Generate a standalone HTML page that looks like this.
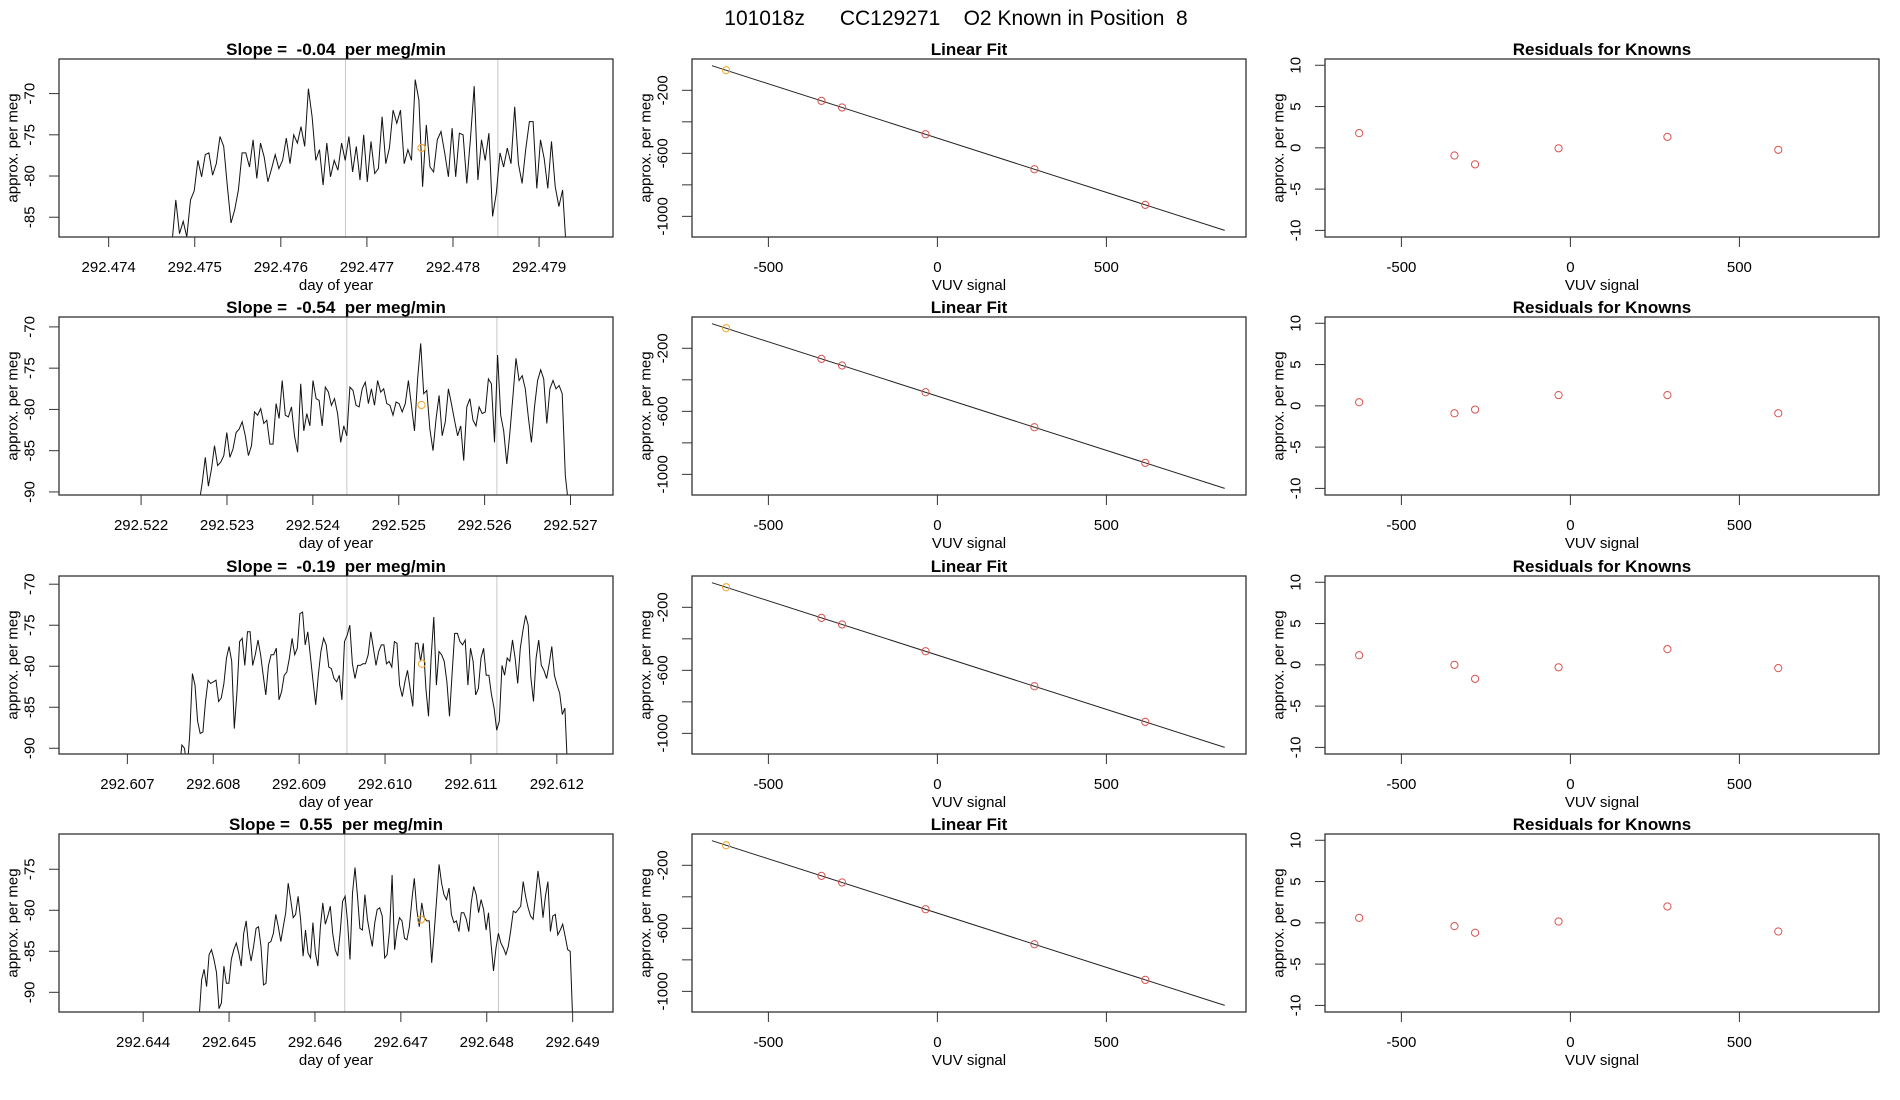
<!DOCTYPE html>
<html><head><meta charset="utf-8"><title>101018z CC129271</title>
<style>
html,body{margin:0;padding:0;background:#fff;}
svg{display:block;font-family:"Liberation Sans",Arial,sans-serif;}
svg text{white-space:pre;}
</style></head>
<body>
<svg id="chart" xmlns="http://www.w3.org/2000/svg" xml:space="preserve" width="1900" height="1100" viewBox="0 0 1900 1100">
<rect x="0" y="0" width="1900" height="1100" fill="#fff"/>
<text x="956" y="25" font-size="21" text-anchor="middle">101018z      CC129271    O2 Known in Position  8</text>
</svg>
<script>
// ---------- data ----------
const slopeLabels = ["-0.04", "-0.54", "-0.19", "0.55"];
const tsTickLabels = [
  ["292.474","292.475","292.476","292.477","292.478","292.479"],
  ["292.522","292.523","292.524","292.525","292.526","292.527"],
  ["292.607","292.608","292.609","292.610","292.611","292.612"],
  ["292.644","292.645","292.646","292.647","292.648","292.649"]
];
const tsTickValues = [
  [292.474,292.475,292.476,292.477,292.478,292.479],
  [292.522,292.523,292.524,292.525,292.526,292.527],
  [292.607,292.608,292.609,292.610,292.611,292.612],
  [292.644,292.645,292.646,292.647,292.648,292.649]
];
const tsXRange = [[292.473423,292.479859],[292.521044,292.527495],[292.606204,292.612654],[292.64302,292.64947]];
const tsYRange = [[-87.4,-65.8],[-90.37,-68.8],[-90.7,-69.0],[-92.4,-70.7]];
const tsYTicks = [[-85,-80,-75,-70],[-90,-85,-80,-75,-70],[-90,-85,-80,-75,-70],[-90,-85,-80,-75]];
const tsStart = [292.474737, 292.522676, 292.607604, 292.644652];
const tsEnd   = [292.479316, 292.526975, 292.612125, 292.649];
const series1 = [-88,-82.9,-87.0,-85.5,-87.4,-82.9,-81.8,-78.1,-80.1,-77.4,-77.2,-79.9,-78.5,-75.2,-76.4,-81.3,-85.7,-84.1,-81.7,-77.2,-77.2,-78.9,-75.6,-80.3,-76.0,-77.7,-80.7,-79.1,-77.4,-79.1,-78.1,-75.4,-78.5,-75.0,-76.0,-74.0,-76.4,-69.4,-72.8,-78.1,-76.8,-81.1,-76.0,-80.1,-78.1,-79.3,-76.0,-78.1,-75.2,-79.5,-76.4,-80.5,-75.0,-80.7,-75.8,-79.7,-79.1,-72.8,-78.5,-76.6,-72.0,-73.6,-72.0,-78.5,-76.8,-78.1,-68.3,-70.8,-81.3,-73.8,-78.9,-79.5,-75.6,-74.6,-77.2,-80.1,-74.2,-80.1,-74.8,-75.0,-80.9,-75.4,-69.1,-80.5,-75.6,-78.1,-74.8,-84.9,-82.1,-77.2,-78.9,-76.6,-78.5,-71.6,-78.5,-80.9,-76.8,-73.4,-73.4,-81.5,-75.6,-77.9,-81.5,-75.8,-81.3,-83.7,-81.7,-89];
const series2 = [-91.3,-88.9,-85.8,-89.3,-87.2,-84.4,-86.8,-86.4,-85.6,-82.8,-85.8,-84.8,-82.8,-82.4,-81.5,-83.2,-85.6,-84.4,-80.3,-80.7,-79.9,-81.7,-81.3,-84.2,-84.2,-79.3,-81.1,-76.5,-80.7,-80.9,-79.7,-83.2,-85.2,-76.9,-82.6,-80.5,-82.0,-76.5,-78.7,-78.9,-82.0,-77.3,-77.9,-79.5,-78.7,-80.5,-84.0,-82.0,-83.2,-77.3,-77.7,-79.5,-79.7,-77.5,-76.7,-79.3,-77.5,-79.5,-76.5,-77.9,-77.5,-79.3,-79.5,-80.7,-79.1,-79.3,-80.3,-79.3,-76.5,-79.5,-82.6,-76.3,-72.0,-78.1,-77.7,-82.4,-85.0,-81.1,-78.3,-83.2,-81.5,-77.5,-79.3,-81.3,-83.2,-82.0,-86.2,-79.7,-78.7,-81.3,-82.0,-79.7,-80.5,-80.3,-76.3,-76.9,-84.0,-73.4,-80.7,-82.6,-86.6,-82.8,-78.3,-73.8,-76.5,-75.9,-77.5,-80.9,-84.0,-79.7,-76.5,-75.2,-76.3,-81.7,-77.5,-76.5,-77.5,-77.1,-78.1,-88.0,-91.3];
const series3 = [-92.7,-89.6,-90.0,-92.7,-88.4,-80.9,-82.3,-86.7,-88.2,-88.0,-84.3,-81.7,-82.1,-81.9,-81.7,-84.3,-83.9,-82.1,-79.0,-77.6,-79.4,-87.6,-83.1,-77.0,-76.6,-79.9,-75.8,-75.8,-79.9,-78.6,-76.8,-78.6,-81.1,-83.5,-79.9,-78.6,-78.6,-77.8,-84.1,-83.1,-81.1,-80.7,-79.0,-76.6,-78.6,-77.8,-73.6,-73.4,-77.4,-75.8,-78.8,-81.9,-84.7,-81.1,-78.2,-76.6,-77.4,-80.1,-80.3,-81.5,-81.9,-81.1,-84.1,-77.0,-76.2,-75.0,-79.7,-81.5,-79.9,-79.9,-79.7,-79.7,-78.6,-75.8,-77.8,-79.9,-78.2,-77.4,-77.4,-79.7,-79.4,-80.1,-77.0,-77.2,-82.3,-83.7,-81.9,-80.5,-82.7,-84.9,-77.2,-77.2,-79.4,-77.2,-82.7,-86.1,-79.0,-74.0,-82.3,-78.2,-78.6,-79.4,-81.9,-86.1,-80.9,-76.0,-76.0,-77.0,-77.4,-76.8,-82.3,-77.8,-79.4,-83.5,-82.7,-79.0,-77.8,-81.1,-81.1,-83.5,-85.1,-87.8,-86.7,-79.9,-81.1,-79.0,-79.4,-76.8,-79.0,-82.1,-77.8,-75.6,-73.8,-75.0,-81.3,-84.3,-79.0,-76.8,-79.9,-80.5,-81.5,-79.7,-77.6,-81.1,-82.3,-83.3,-85.9,-85.1,-92.7];
const series4 = [-93,-88.5,-87.2,-89.3,-85.4,-84.8,-86.0,-87.6,-92,-91.3,-86.8,-88.9,-88.9,-86.0,-84.8,-84.0,-85.2,-86.8,-82.8,-81.3,-84.4,-86.2,-84.4,-82.2,-82.0,-84.4,-89.1,-88.9,-84.0,-83.8,-82.8,-80.5,-82.0,-83.8,-82.0,-80.3,-76.7,-78.7,-80.9,-80.5,-78.3,-81.1,-85.6,-82.4,-85.2,-85.8,-81.5,-85.2,-86.8,-82.0,-79.1,-81.7,-80.7,-79.5,-82.8,-84.8,-85.6,-82.8,-78.9,-78.3,-81.5,-86.0,-77.9,-74.8,-78.3,-82.2,-82.4,-78.1,-81.1,-82.8,-84.4,-81.5,-79.9,-79.7,-80.7,-85.8,-85.4,-82.4,-75.7,-84.8,-82.4,-80.9,-81.3,-83.4,-83.6,-82.0,-78.7,-76.1,-79.9,-82.0,-79.1,-80.9,-81.3,-81.3,-86.4,-82.8,-78.7,-74.4,-76.7,-78.1,-78.7,-77.3,-80.5,-81.5,-81.3,-82.6,-80.3,-80.3,-81.1,-82.6,-79.1,-77.1,-78.1,-80.3,-78.7,-79.9,-82.4,-80.3,-84.0,-87.4,-84.6,-82.8,-84.0,-84.6,-85.4,-84.4,-82.4,-80.1,-80.3,-79.9,-79.5,-76.5,-78.3,-79.7,-80.7,-81.1,-78.3,-75.2,-77.5,-80.9,-78.3,-76.5,-82.6,-80.7,-80.5,-83.0,-82.4,-81.7,-83.2,-84.8,-85.0,-93];
const allSeries = [series1, series2, series3, series4];
const grayLines = [[292.476751,292.478521],[292.524396,292.526143],[292.609556,292.611302],[292.646347,292.648137]];
const markerTime = [292.477634, 292.525265, 292.610430, 292.647234];
const markerValue = [-76.59, -79.46, -79.7, -81.13];

const vuvSignal = [-625, -343, -282, -35, 287, 615];
const fitValues = [-72.8, -267, -309, -479, -701, -927];
const fitLineX = [-667, 850];
const fitLineY = [-43.8, -1089];
const fitXTicks = [-500, 0, 500];
const fitYTicks = [-200, -400, -600, -800, -1000];
const fitYTickLabels = ["-200", "", "-600", "", "-1000"];
const residuals = [
  [1.78, -0.93, -2.0, -0.06, 1.33, -0.24],
  [0.43, -0.9, -0.45, 1.3, 1.3, -0.9],
  [1.16, 0.0, -1.7, -0.3, 1.9, -0.4],
  [0.6, -0.4, -1.2, 0.16, 1.98, -1.05]
];
const residYTicks = [-10, -5, 0, 5, 10];

// ---------- layout ----------
const svg = document.getElementById('chart');
const NS = 'http://www.w3.org/2000/svg';
const cols = [[59, 613], [692, 1246], [1325, 1879]];
const rowTops = [59, 317, 576, 834];
const H = 178;
const FONT = 15;

function mk(tag, attrs, parent) {
  const e = document.createElementNS(NS, tag);
  for (const k in attrs) e.setAttribute(k, attrs[k]);
  (parent || svg).appendChild(e);
  return e;
}
function lin(d0, d1, r0, r1) { return v => r0 + (v - d0) * (r1 - r0) / (d1 - d0); }

function frame(g, x0, x1, y0, y1) {
  const b = mk('rect', {x: x0, y: y0, width: x1 - x0, height: y1 - y0, fill: 'none', stroke: '#333', 'stroke-width': 1.3}, g);
  
  
}
function xAxis(g, xs, vals, labels, y1) {
  vals.forEach((v, i) => {
    const x = xs(v);
    const t = mk('line', {x1: x, x2: x, y1: y1, y2: y1 + 10, stroke: '#333', 'stroke-width': 1}, g);
    
    
    const l = mk('text', {x: x, y: y1 + 35, 'font-size': FONT, 'text-anchor': 'middle', fill: '#000'}, g);
    
    
    l.textContent = labels[i];
  });
}
function yAxis(g, ys, vals, labels, x0) {
  vals.forEach((v, i) => {
    const y = ys(v);
    const t = mk('line', {x1: x0 - 10, x2: x0, y1: y, y2: y, stroke: '#333', 'stroke-width': 1}, g);
    
    
    if (labels[i] !== '') {
      const cx = x0 - 29;
      const l = mk('text', {x: cx, y: y, 'font-size': FONT, 'text-anchor': 'middle', 'dominant-baseline': 'central', transform: `rotate(-90 ${cx} ${y})`}, g);
      
      
      l.textContent = labels[i];
    }
  });
}
function titles(g, x0, x1, y0, y1, title, xlab, ylab) {
  const t = mk('text', {x: (x0 + x1) / 2, y: y0 - 4, 'font-size': 17, 'font-weight': 'bold', 'text-anchor': 'middle'}, g);
  
  
  t.textContent = title;
  const xl = mk('text', {x: (x0 + x1) / 2, y: y1 + 53, 'font-size': FONT, 'text-anchor': 'middle'}, g);
  
  
  xl.textContent = xlab;
  const cx = x0 - 46, cy = (y0 + y1) / 2;
  const yl = mk('text', {x: cx, y: cy, 'font-size': FONT, 'text-anchor': 'middle', 'dominant-baseline': 'central', transform: `rotate(-90 ${cx} ${cy})`}, g);
  
  
  yl.textContent = ylab;
}

rowTops.forEach((top, r) => {
  const bot = top + H;
  // ---- time series ----
  {
    const [x0, x1] = cols[0];
    const g = mk('g', {});
    
    
    const xs = lin(tsXRange[r][0], tsXRange[r][1], x0, x1);
    const ys = lin(tsYRange[r][0], tsYRange[r][1], bot, top);
    const cid = 'clip' + r;
    const cp = mk('clipPath', {id: cid}, g);
    mk('rect', {x: x0, y: top, width: x1 - x0, height: H}, cp);
    grayLines[r].forEach(t => {
      const l = mk('line', {x1: xs(t), x2: xs(t), y1: top, y2: bot, stroke: '#c8c8c8', 'stroke-width': 1}, g);
      
      
    });
    const s = allSeries[r];
    const n = s.length;
    const pts = s.map((v, i) => {
      const t = tsStart[r] + (tsEnd[r] - tsStart[r]) * i / (n - 1);
      return xs(t).toFixed(1) + ',' + ys(v).toFixed(1);
    }).join(' ');
    const pl = mk('polyline', {points: pts, fill: 'none', stroke: '#111', 'stroke-width': 1, 'clip-path': `url(#${cid})`}, g);
    
    
    const m = mk('circle', {cx: xs(markerTime[r]), cy: ys(markerValue[r]), r: 3.6, fill: 'none', stroke: '#f5a623', 'stroke-width': 1}, g);
    
    
    frame(g, x0, x1, top, bot);
    xAxis(g, xs, tsTickValues[r], tsTickLabels[r], bot);
    yAxis(g, ys, tsYTicks[r], tsYTicks[r].map(String), x0);
    titles(g, x0, x1, top, bot, 'Slope =  ' + slopeLabels[r] + '  per meg/min', 'day of year', 'approx. per meg');
  }
  // ---- linear fit ----
  {
    const [x0, x1] = cols[1];
    const g = mk('g', {});
    
    
    const xs = lin(-726, 913, x0, x1);
    const ys = lin(-1131, -1.3, bot, top);
    const l = mk('line', {x1: xs(fitLineX[0]), y1: ys(fitLineY[0]), x2: xs(fitLineX[1]), y2: ys(fitLineY[1]), stroke: '#222', 'stroke-width': 1}, g);
    
    
    vuvSignal.forEach((v, i) => {
      const c = mk('circle', {cx: xs(v), cy: ys(fitValues[i]), r: 3.6, fill: 'none', stroke: i === 0 ? '#f5a623' : '#d9534f', 'stroke-width': 1}, g);
      
      
    });
    frame(g, x0, x1, top, bot);
    xAxis(g, xs, fitXTicks, fitXTicks.map(String), bot);
    yAxis(g, ys, fitYTicks, fitYTickLabels, x0);
    titles(g, x0, x1, top, bot, 'Linear Fit', 'VUV signal', 'approx. per meg');
  }
  // ---- residuals ----
  {
    const [x0, x1] = cols[2];
    const g = mk('g', {});
    
    
    const xs = lin(-726, 913, x0, x1);
    const ys = lin(-10.8, 10.76, bot, top);
    vuvSignal.forEach((v, i) => {
      const c = mk('circle', {cx: xs(v), cy: ys(residuals[r][i]), r: 3.6, fill: 'none', stroke: '#d9534f', 'stroke-width': 1}, g);
      
      
    });
    frame(g, x0, x1, top, bot);
    xAxis(g, xs, fitXTicks, fitXTicks.map(String), bot);
    yAxis(g, ys, residYTicks, residYTicks.map(String), x0);
    titles(g, x0, x1, top, bot, 'Residuals for Knowns', 'VUV signal', 'approx. per meg');
  }
});
</script>
</body></html>
